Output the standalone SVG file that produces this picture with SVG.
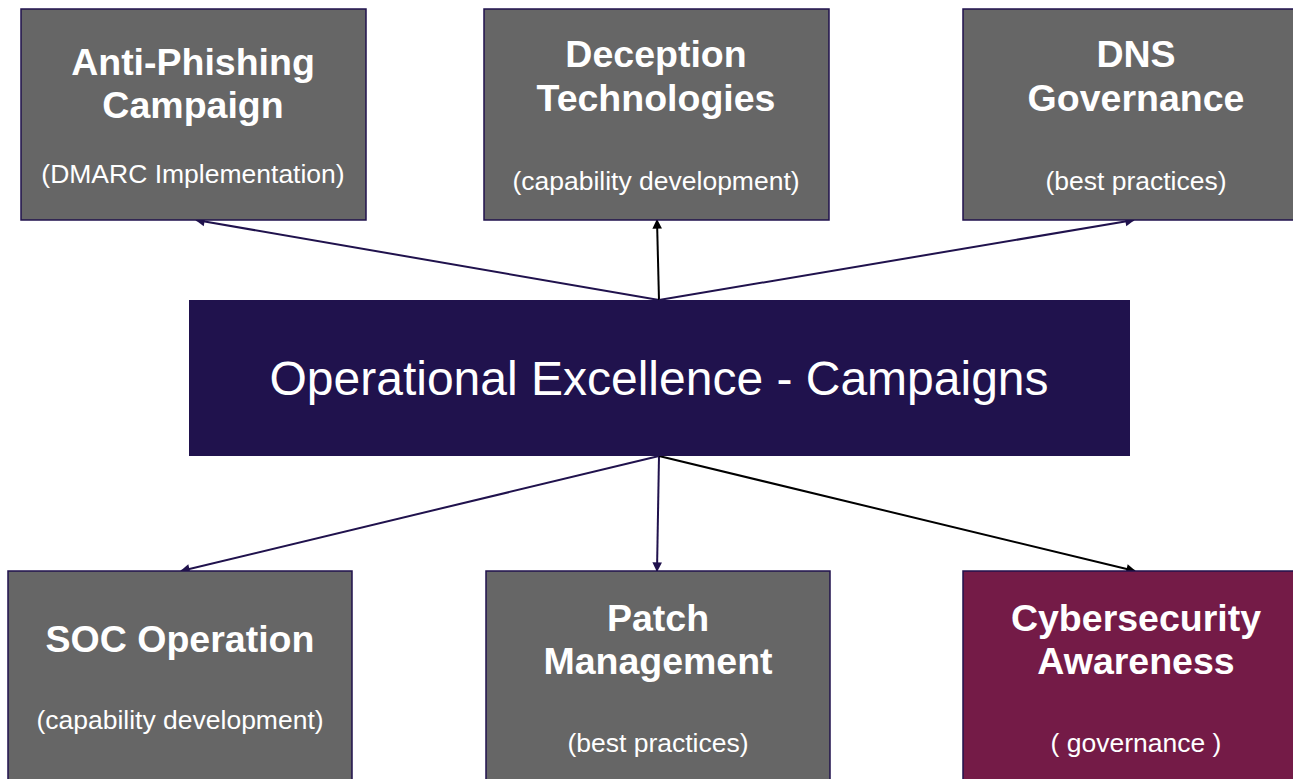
<svg xmlns="http://www.w3.org/2000/svg" width="1293" height="779" viewBox="0 0 1293 779">
<defs>
<style>
.box{fill:#666666;stroke:#20124d;stroke-width:1.5}
.t{font-family:"Liberation Sans",Arial,sans-serif;font-weight:bold;font-size:37.5px;fill:#ffffff;text-anchor:middle}
.s{font-family:"Liberation Sans",Arial,sans-serif;font-size:26.5px;fill:#ffffff;text-anchor:middle}
.c{font-family:"Liberation Sans",Arial,sans-serif;font-size:48px;fill:#ffffff;text-anchor:middle}
.ln{stroke:#20124d;stroke-width:2;fill:none}
.lk{stroke:#000000;stroke-width:2;fill:none}
</style>
<marker id="an" viewBox="0 0 10 10" refX="9" refY="5" markerWidth="6" markerHeight="6" orient="auto" markerUnits="userSpaceOnUse" style="overflow:visible"><path d="M0,0 L10,5 L0,10 z" fill="#20124d" transform="scale(1.6) translate(-3.4,-1.9)"/></marker>
<marker id="ak" viewBox="0 0 10 10" refX="9" refY="5" markerWidth="6" markerHeight="6" orient="auto" markerUnits="userSpaceOnUse" style="overflow:visible"><path d="M0,0 L10,5 L0,10 z" fill="#000000" transform="scale(1.6) translate(-3.4,-1.9)"/></marker>
</defs>
<rect width="1293" height="779" fill="#ffffff"/>
<g id="connectors">
<line class="ln" x1="659" y1="300" x2="196" y2="220" marker-end="url(#an)"/>
<line class="lk" x1="659" y1="300" x2="657" y2="220" marker-end="url(#ak)"/>
<line class="ln" x1="659" y1="300" x2="1134" y2="220" marker-end="url(#an)"/>
<line class="ln" x1="659" y1="456" x2="181" y2="571" marker-end="url(#an)"/>
<line class="ln" x1="659" y1="456" x2="657" y2="571" marker-end="url(#an)"/>
<line class="lk" x1="659" y1="456" x2="1135" y2="571" marker-end="url(#ak)"/>
</g>
<g id="anti-phishing">
<rect class="box" x="21" y="9" width="345" height="211"/>
<text class="t" x="193" y="75">Anti-Phishing</text>
<text class="t" x="193" y="118">Campaign</text>
<text class="s" x="193" y="183">(DMARC Implementation)</text>
</g>
<g id="deception">
<rect class="box" x="484" y="9" width="345" height="211"/>
<text class="t" x="656" y="67">Deception</text>
<text class="t" x="656" y="111">Technologies</text>
<text class="s" x="656" y="190">(capability development)</text>
</g>
<g id="dns">
<rect class="box" x="963" y="9" width="345" height="211"/>
<text class="t" x="1136" y="67">DNS</text>
<text class="t" x="1136" y="111">Governance</text>
<text class="s" x="1136" y="190">(best practices)</text>
</g>
<g id="center">
<rect x="189" y="300" width="941" height="156" fill="#20124d"/>
<text class="c" x="659" y="395">Operational Excellence - Campaigns</text>
</g>
<g id="soc">
<rect class="box" x="8" y="571" width="344" height="220"/>
<text class="t" x="180" y="652">SOC Operation</text>
<text class="s" x="180" y="729">(capability development)</text>
</g>
<g id="patch">
<rect class="box" x="486" y="571" width="344" height="220"/>
<text class="t" x="658" y="631">Patch</text>
<text class="t" x="658" y="674">Management</text>
<text class="s" x="658" y="752">(best practices)</text>
</g>
<g id="cyber">
<rect x="963" y="571" width="345" height="220" fill="#741b47" stroke="#20124d" stroke-width="1.5"/>
<text class="t" x="1136" y="631">Cybersecurity</text>
<text class="t" x="1136" y="674">Awareness</text>
<text class="s" x="1136" y="752">( governance )</text>
</g>
</svg>
